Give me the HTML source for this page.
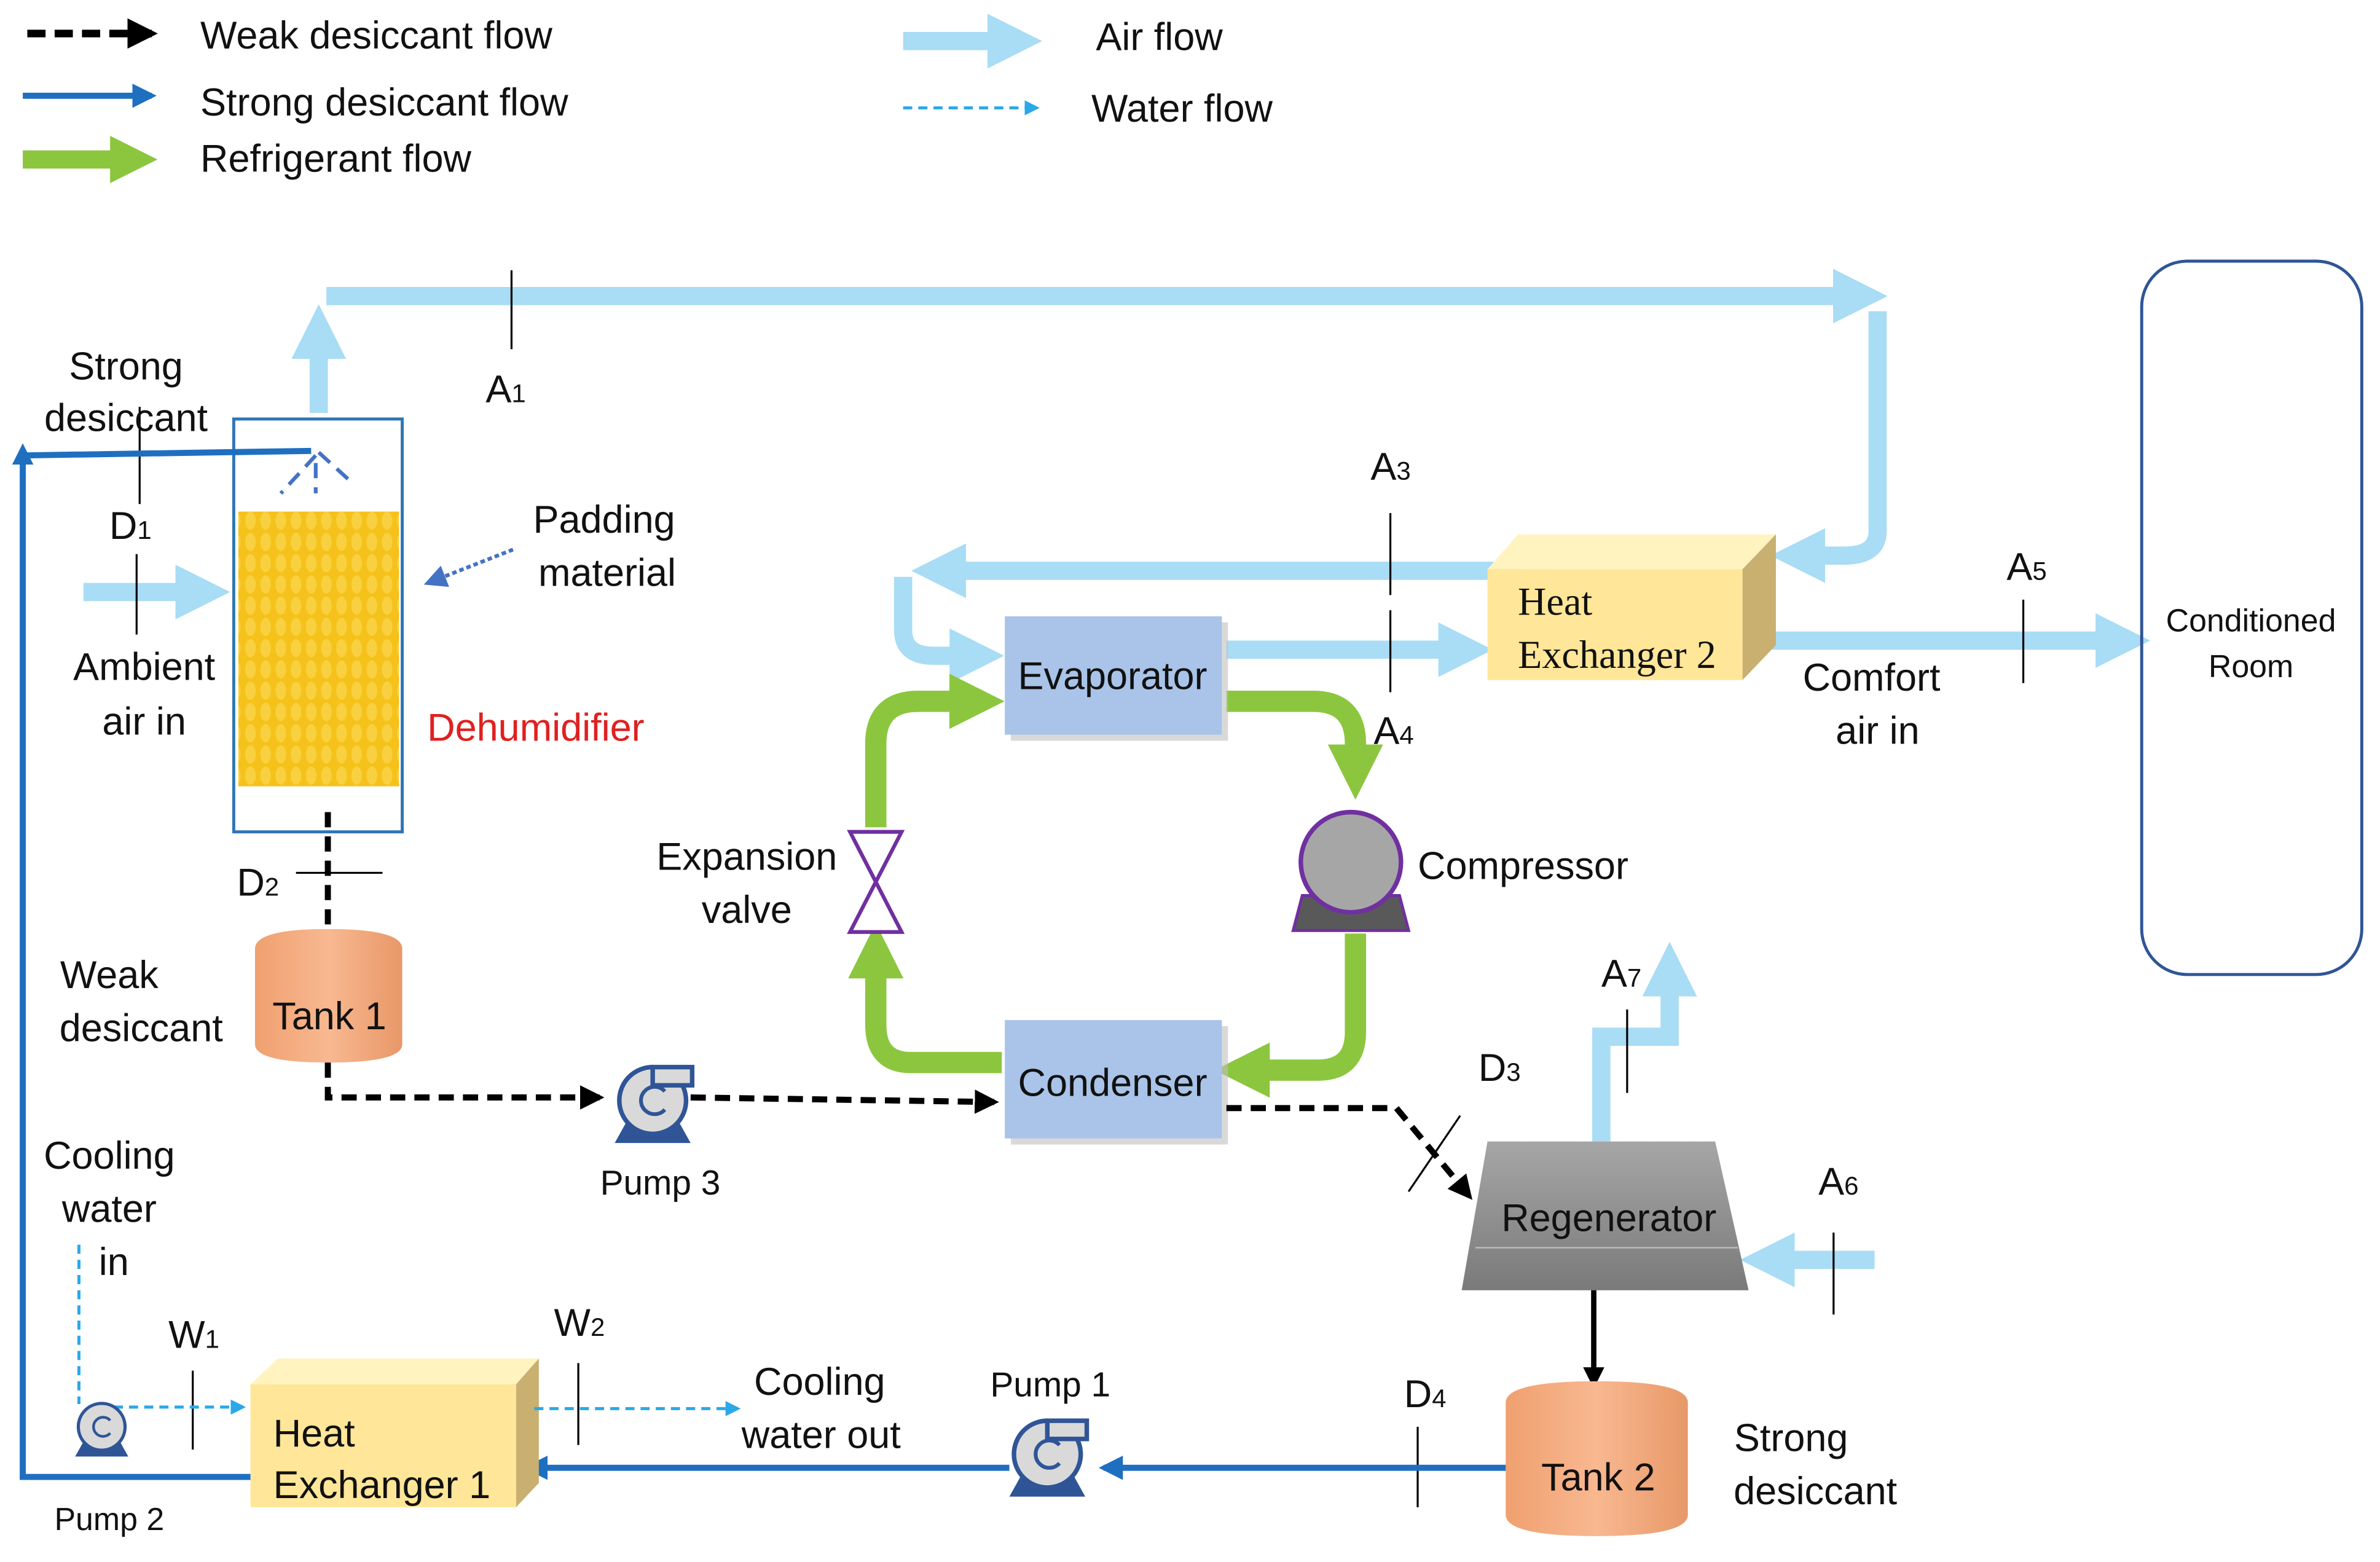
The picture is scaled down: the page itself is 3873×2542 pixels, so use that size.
<!DOCTYPE html>
<html><head><meta charset="utf-8"><style>
html,body{margin:0;padding:0;background:#fff;}
svg{display:block;}
text{font-family:"Liberation Sans",sans-serif;font-size:25.5px;fill:#111;}
.c{text-anchor:middle;}
</style></head><body>
<svg width="3873" height="2542" viewBox="0 0 1568 1029" xmlns="http://www.w3.org/2000/svg">
<defs>
<marker id="ab" viewBox="0 0 10 10" refX="4" refY="5" markerWidth="3" markerHeight="3" orient="auto"><path d="M0,0L10,5L0,10z" fill="#a9dcf5"/></marker>
<marker id="ag" viewBox="0 0 10 10" refX="4" refY="5" markerWidth="2.6" markerHeight="2.6" orient="auto"><path d="M0,0L10,5L0,10z" fill="#8cc63f"/></marker>
<marker id="ak" viewBox="0 0 10 10" refX="8" refY="5" markerWidth="4" markerHeight="4" orient="auto"><path d="M0,0L10,5L0,10z" fill="#000"/></marker>
<marker id="au" viewBox="0 0 10 10" refX="8" refY="5" markerWidth="4" markerHeight="4" orient="auto"><path d="M0,0L10,5L0,10z" fill="#1f6fc0"/></marker>
<marker id="aw" viewBox="0 0 10 10" refX="8" refY="5" markerWidth="5" markerHeight="5" orient="auto"><path d="M0,0L10,5L0,10z" fill="#2aa8e8"/></marker>
<marker id="ap" viewBox="0 0 10 10" refX="8" refY="5" markerWidth="6" markerHeight="6" orient="auto"><path d="M0,0L10,5L0,10z" fill="#4472c4"/></marker>
<pattern id="hex" width="10" height="14" patternUnits="userSpaceOnUse"><rect width="10" height="14" fill="#f5c21b"/><ellipse cx="5" cy="7" rx="3.5" ry="6" fill="#f9d040"/></pattern>
<linearGradient id="reg" x1="0" y1="0" x2="0" y2="1"><stop offset="0" stop-color="#a6a6a6"/><stop offset="1" stop-color="#7a7a7a"/></linearGradient>
<linearGradient id="tank" x1="0" y1="0" x2="1" y2="0"><stop offset="0" stop-color="#f0a070"/><stop offset="0.5" stop-color="#f8b890"/><stop offset="1" stop-color="#e89868"/></linearGradient>
</defs>

<!-- legend -->
<line x1="18" y1="22" x2="100" y2="22" stroke="#000" stroke-width="5" stroke-dasharray="12,6" marker-end="url(#ak)"/>
<text x="132" y="32">Weak desiccant flow</text>
<line x1="15" y1="63" x2="100" y2="63" stroke="#1f6fc0" stroke-width="4" marker-end="url(#au)"/>
<text x="132" y="76">Strong desiccant flow</text>
<line x1="15" y1="105" x2="85" y2="105" stroke="#8cc63f" stroke-width="12" marker-end="url(#ag)"/>
<text x="132" y="113">Refrigerant flow</text>
<line x1="595" y1="27" x2="665" y2="27" stroke="#a9dcf5" stroke-width="12" marker-end="url(#ab)"/>
<text x="722" y="33">Air flow</text>
<line x1="595" y1="71" x2="683" y2="71" stroke="#2aa8e8" stroke-width="2" stroke-dasharray="6,4" marker-end="url(#aw)"/>
<text x="719" y="80">Water flow</text>

<!-- air paths -->
<g stroke="#a9dcf5" stroke-width="12" fill="none">
<line x1="210" y1="272" x2="210" y2="222" marker-end="url(#ab)"/>
<line x1="215" y1="195" x2="1222" y2="195" marker-end="url(#ab)"/>
<path d="M1237,205 L1237,350 Q1237,366 1215,366 L1188,366" marker-end="url(#ab)"/>
<line x1="1005" y1="376" x2="622" y2="376" marker-end="url(#ab)"/>
<path d="M595,380 L595,415 Q595,432 615,432 L640,432" marker-end="url(#ab)"/>
<line x1="808" y1="428" x2="962" y2="428" marker-end="url(#ab)"/>
<line x1="1158" y1="422" x2="1395" y2="422" marker-end="url(#ab)"/>
<line x1="55" y1="390" x2="130" y2="390" marker-end="url(#ab)"/>
<path d="M1055,752 L1055,683 L1100,683 L1100,642" marker-end="url(#ab)"/>
<line x1="1235" y1="830" x2="1168" y2="830" marker-end="url(#ab)"/>
</g>
<g stroke="#000" stroke-width="1.3">
<line x1="337" y1="178" x2="337" y2="230"/>
<line x1="916" y1="338" x2="916" y2="392"/>
<line x1="916" y1="402" x2="916" y2="456"/>
<line x1="1333" y1="395" x2="1333" y2="450"/>
<line x1="90" y1="365" x2="90" y2="418"/>
<line x1="92" y1="268" x2="92" y2="332"/>
<line x1="1072" y1="665" x2="1072" y2="720"/>
<line x1="1208" y1="812" x2="1208" y2="866"/>
<line x1="195" y1="575" x2="252" y2="575"/>
<line x1="928" y1="785" x2="962" y2="735"/>
<line x1="934" y1="940" x2="934" y2="993"/>
<line x1="127" y1="903" x2="127" y2="955"/>
<line x1="381" y1="898" x2="381" y2="952"/>
</g>
<text x="320" y="265">A<tspan font-size="17">1</tspan></text>
<text x="903" y="316">A<tspan font-size="17">3</tspan></text>
<text x="905" y="490">A<tspan font-size="17">4</tspan></text>
<text x="1322" y="382">A<tspan font-size="17">5</tspan></text>
<text x="1055" y="650">A<tspan font-size="17">7</tspan></text>
<text x="1198" y="787">A<tspan font-size="17">6</tspan></text>
<text x="72" y="355">D<tspan font-size="17">1</tspan></text>
<text x="156" y="590">D<tspan font-size="17">2</tspan></text>
<text x="974" y="712">D<tspan font-size="17">3</tspan></text>
<text x="925" y="927">D<tspan font-size="17">4</tspan></text>
<text x="111" y="888">W<tspan font-size="17">1</tspan></text>
<text x="365" y="880">W<tspan font-size="17">2</tspan></text>

<!-- dehumidifier -->
<rect x="154" y="276" width="111" height="272" fill="none" stroke="#2e75b6" stroke-width="2"/>
<rect x="157" y="337" width="106" height="181" fill="url(#hex)"/>
<g stroke="#4472c4" stroke-width="2.5" stroke-dasharray="10,6">
<line x1="208" y1="300" x2="185" y2="325"/><line x1="208" y1="305" x2="208" y2="325"/><line x1="210" y1="298" x2="232" y2="318"/>
</g>
<path d="M15,975 L15,300 L205,297" fill="none" stroke="#1f6fc0" stroke-width="4"/>
<path d="M8,306 L15,292 L22,306z" fill="#1f6fc0"/>
<line x1="338" y1="362" x2="282" y2="384" stroke="#4472c4" stroke-width="2.5" stroke-dasharray="3,2" marker-end="url(#ap)"/>
<text class="c" x="83" y="250">Strong</text>
<text class="c" x="83" y="284">desiccant</text>
<text class="c" x="95" y="448">Ambient</text>
<text class="c" x="95" y="484">air  in</text>
<text class="c" x="398" y="351">Padding</text>
<text class="c" x="400" y="386">material</text>
<text class="c" x="353" y="488" style="fill:#e02020">Dehumidifier</text>

<line x1="216" y1="535" x2="216" y2="628" stroke="#000" stroke-width="4" stroke-dasharray="10,6" marker-end="url(#ak)"/>
<path d="M168,625 Q168,612 216,612 Q265,612 265,625 L265,688 Q265,700 216,700 Q168,700 168,688z" fill="url(#tank)"/>
<text class="c" x="217" y="678">Tank 1</text>
<text class="c" x="72" y="651">Weak</text>
<text class="c" x="93" y="686">desiccant</text>

<path d="M216,700 L216,723 L395,723" fill="none" stroke="#000" stroke-width="4" stroke-dasharray="10,6" marker-end="url(#ak)"/>
<line x1="455" y1="723" x2="655" y2="726" stroke="#000" stroke-width="4" stroke-dasharray="10,6" marker-end="url(#ak)"/>
<text class="c" x="435" y="787" style="font-size:23px">Pump 3</text>

<g id="pump3" transform="translate(430,725)">
<path d="M-25,28 L-15,10 L15,10 L25,28z" fill="#2f5597"/>
<circle cx="0" cy="0" r="22" fill="#d9d9d9" stroke="#2f5597" stroke-width="3"/>
<rect x="0" y="-22" width="26" height="12" fill="#d9d9d9" stroke="#2f5597" stroke-width="3"/>
<path d="M8,-6 A9,9 0 1 0 8,6" fill="none" stroke="#2f5597" stroke-width="2.5"/>
</g>

<g stroke="#8cc63f" stroke-width="14" fill="none">
<path d="M808,462 L865,462 Q893,462 893,490 L893,505" marker-end="url(#ag)"/>
<path d="M893,615 L893,680 Q893,705 868,705 L822,705" marker-end="url(#ag)"/>
<path d="M660,700 L600,700 Q577,700 577,675 L577,630" marker-end="url(#ag)"/>
<path d="M577,545 L577,490 Q577,462 605,462 L640,462" marker-end="url(#ag)"/>
</g>
<path d="M560,548 L594,548 L560,614 L594,614z" fill="#fff" stroke="#7030a0" stroke-width="2.5"/>
<text class="c" x="492" y="573">Expansion</text>
<text class="c" x="492" y="608">valve</text>
<path d="M858,590 L922,590 L928,613 L852,613z" fill="#595959" stroke="#7030a0" stroke-width="2"/>
<circle cx="890" cy="568" r="33" fill="#a6a6a6" stroke="#7030a0" stroke-width="3"/>
<text x="934" y="579">Compressor</text>

<rect x="666" y="410" width="143" height="78" fill="#c0c0c0" opacity="0.6"/>
<rect x="662" y="406" width="143" height="78" fill="#a9c4e8"/>
<text class="c" x="733" y="454">Evaporator</text>
<rect x="666" y="676" width="143" height="78" fill="#c0c0c0" opacity="0.6"/>
<rect x="662" y="672" width="143" height="78" fill="#a9c4e8"/>
<text class="c" x="733" y="722">Condenser</text>

<path d="M980,375 L1000,352 L1170,352 L1148,375z" fill="#fff3c0"/>
<path d="M1148,375 L1170,352 L1170,425 L1148,448z" fill="#c9b070"/>
<rect x="980" y="375" width="168" height="73" fill="#ffe699"/>
<text x="1000" y="405" style="font-family:'Liberation Serif',serif;font-size:26px">Heat</text>
<text x="1000" y="440" style="font-family:'Liberation Serif',serif;font-size:26px">Exchanger 2</text>
<text class="c" x="1233" y="455">Comfort</text>
<text class="c" x="1237" y="490">air in</text>

<rect x="1411" y="172" width="145" height="470" rx="30" fill="none" stroke="#2f5597" stroke-width="2"/>
<text class="c" x="1483" y="416" style="font-size:21px">Conditioned</text>
<text class="c" x="1483" y="446" style="font-size:21px">Room</text>

<path d="M808,730 L920,730 L968,788" fill="none" stroke="#000" stroke-width="4" stroke-dasharray="10,6" marker-end="url(#ak)"/>
<path d="M980,752 L1130,752 L1152,850 L963,850z" fill="url(#reg)"/>
<line x1="972" y1="822" x2="1145" y2="822" stroke="#bbb" stroke-width="1"/>
<text class="c" x="1060" y="811">Regenerator</text>
<line x1="1050" y1="850" x2="1050" y2="912" stroke="#000" stroke-width="3.5" marker-end="url(#ak)"/>

<path d="M992,924 Q992,910 1052,910 Q1112,910 1112,924 L1112,998 Q1112,1012 1052,1012 Q992,1012 992,998z" fill="url(#tank)"/>
<text class="c" x="1053" y="982">Tank 2</text>
<text class="c" x="1180" y="956">Strong</text>
<text class="c" x="1196" y="991">desiccant</text>

<line x1="992" y1="967" x2="727" y2="967" stroke="#1f6fc0" stroke-width="4" marker-end="url(#au)"/>
<use href="#pump3" transform="translate(260,233)"/>
<text class="c" x="692" y="920" style="font-size:23px">Pump 1</text>
<line x1="665" y1="967" x2="348" y2="967" stroke="#1f6fc0" stroke-width="4" marker-end="url(#au)"/>

<path d="M165,912 L183,895 L355,895 L340,912z" fill="#fff3c0"/>
<path d="M340,912 L355,895 L355,977 L340,993z" fill="#c9b070"/>
<rect x="165" y="912" width="175" height="81" fill="#ffe699"/>
<text x="180" y="953">Heat</text>
<text x="180" y="987">Exchanger 1</text>
<line x1="165" y1="973" x2="15" y2="973" stroke="#1f6fc0" stroke-width="4"/>

<path d="M52,820 L52,925" fill="none" stroke="#2aa8e8" stroke-width="2" stroke-dasharray="6,4"/>
<line x1="75" y1="927" x2="160" y2="927" stroke="#2aa8e8" stroke-width="2" stroke-dasharray="6,4" marker-end="url(#aw)"/>
<line x1="352" y1="928" x2="486" y2="928" stroke="#2aa8e8" stroke-width="2" stroke-dasharray="6,4" marker-end="url(#aw)"/>
<g transform="translate(67,940) scale(0.7)">
<path d="M-25,28 L-15,10 L15,10 L25,28z" fill="#2f5597"/>
<circle cx="0" cy="0" r="22" fill="#d9d9d9" stroke="#2f5597" stroke-width="3"/>
<path d="M8,-6 A9,9 0 1 0 8,6" fill="none" stroke="#2f5597" stroke-width="2.5"/>
</g>
<text class="c" x="72" y="1008" style="font-size:21px">Pump 2</text>
<text class="c" x="72" y="770">Cooling</text>
<text class="c" x="72" y="805">water</text>
<text class="c" x="75" y="840">in</text>
<text class="c" x="540" y="919">Cooling</text>
<text class="c" x="541" y="954">water out</text>
</svg>
</body></html>
